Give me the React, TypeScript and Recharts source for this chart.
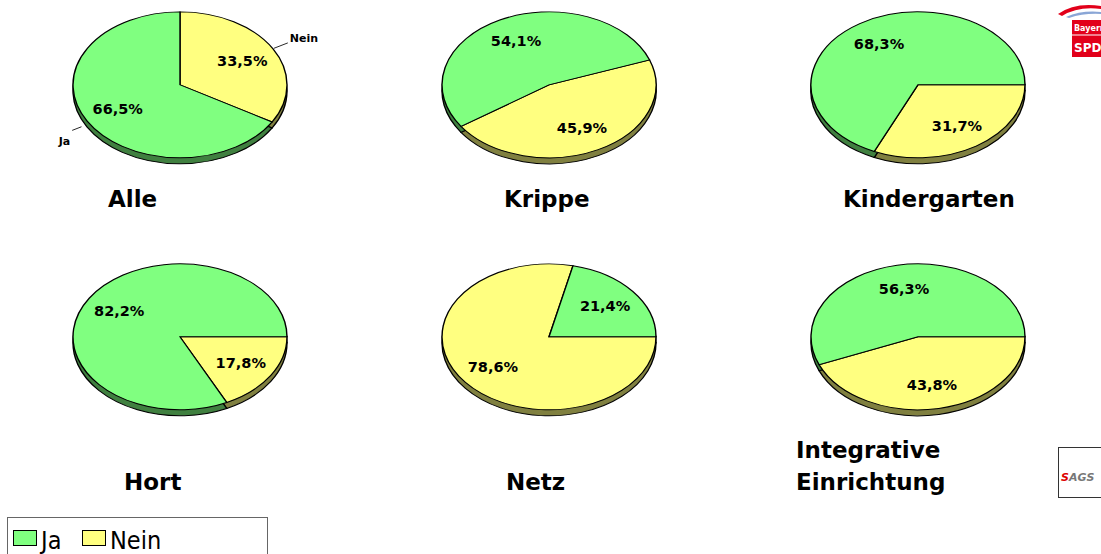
import { PieChart, Pie, Cell } from 'recharts'

// survey results, one pie per group
const groupTitles = [['Alle'], ['Krippe'], ['Kindergarten'], ['Hort'], ['Netz'], ['Integrative', 'Einrichtung']]
const jaValues = [66.5, 54.1, 68.3, 82.2, 21.4, 56.3]
const neinValues = [33.5, 45.9, 31.7, 17.8, 78.6, 43.8]
const seriesNames = ['Nein', 'Ja']

// layout
const centers = [[180, 85], [549, 85], [918, 85], [180, 337], [549, 337], [918, 337]]
const startAngles = [90, 20, 0, 0, 0, 0]
const titlePos = [[108, 207], [504, 207], [843, 207], [124, 490], [506, 490], [796, 458]]

const K = 0.682
const R = 107
const DEPTH = 6 / K
const RAD = Math.PI / 180
const W = 320
const H = 260
const CX = 160
const CY = 120

const TOP_COLORS = ['#ffff80', '#80ff80']
const SIDE_COLORS = ['#808040', '#408040']

const fmt = (v: number) => v.toFixed(1).replace('.', ',') + '%'
const unsquash = (y: number) => `translate(0 ${y}) scale(1 ${1 / K}) translate(0 ${-y})`

const makeLabel = (showNames: boolean) => (props: any) => {
  const { cx, cy, midAngle, outerRadius, value, name } = props
  const cos = Math.cos(-midAngle * RAD)
  const sin = Math.sin(-midAngle * RAD)
  const r = outerRadius * 0.67
  const x = cx + r * cos
  const y = cy + r * sin
  const right = cos >= 0
  const r1 = right ? 1.01 : 1.06
  const x1 = cx + outerRadius * r1 * cos
  const y1 = cy + outerRadius * r1 * sin + (right ? 0 : DEPTH * 0.6)
  const x2 = cx + outerRadius * 1.16 * cos
  const y2 = cy + outerRadius * 1.16 * sin + (right ? 0 : DEPTH * 0.6)
  return (
    <g>
      <text x={x} y={y} transform={unsquash(y)} textAnchor="middle" dominantBaseline="central"
        fontFamily="DejaVu Sans" fontWeight="bold" fontSize={14.5} fill="#000">
        {fmt(value)}
      </text>
      {showNames && (
        <g>
          <line x1={x1} y1={y1} x2={x2} y2={y2} stroke="#000" strokeWidth={1} />
          <text x={x2 + (right ? 2 : -2)} y={y2} dy={right ? -1 : 15} transform={unsquash(y2)}
            textAnchor={right ? 'start' : 'end'} fontFamily="DejaVu Sans" fontWeight="bold" fontSize={11} fill="#000">
            {name}
          </text>
        </g>
      )}
    </g>
  )
}

function PieBlock({ i }: { i: number }) {
  const data = [
    { name: seriesNames[0], value: neinValues[i] },
    { name: seriesNames[1], value: jaValues[i] },
  ]
  const [sx, sy] = centers[i]
  const start = startAngles[i]
  return (
    <div style={{ position: 'absolute', left: sx - CX, top: sy - CY * K, width: W, height: H, transform: `scaleY(${K})`, transformOrigin: '0 0' }}>
      <PieChart width={W} height={H} margin={{ top: 0, right: 0, bottom: 0, left: 0 }}>
        <Pie data={data} dataKey="value" nameKey="name" cx={CX} cy={CY + DEPTH} outerRadius={R}
          startAngle={start} endAngle={start - 360} stroke="#000" strokeWidth={1.4}
          isAnimationActive={false} label={false} labelLine={false}>
          {data.map((_, j) => <Cell key={j} fill={SIDE_COLORS[j]} />)}
        </Pie>
        <Pie data={data} dataKey="value" nameKey="name" cx={CX} cy={CY} outerRadius={R}
          startAngle={start} endAngle={start - 360} stroke="#000" strokeWidth={1.4}
          isAnimationActive={false} label={makeLabel(i === 0)} labelLine={false}>
          {data.map((_, j) => <Cell key={j} fill={TOP_COLORS[j]} />)}
        </Pie>
      </PieChart>
    </div>
  )
}

export default function App() {
  return (
    <div style={{ position: 'absolute', left: 0, top: 0, width: 1101, height: 554, overflow: 'hidden', background: '#fff' }}>
      <svg width={1101} height={554} style={{ position: 'absolute', left: 0, top: 0 }}>
        {groupTitles.map((lines, i) => lines.map((ln, j) => (
          <text key={`${i}-${j}`} x={titlePos[i][0]} y={titlePos[i][1] + j * 32}
            fontFamily="DejaVu Sans" fontWeight="bold" fontSize={23} fill="#000">{ln}</text>
        )))}
        {/* legend */}
        <rect x={7.5} y={517.5} width={260} height={60} fill="#fff" stroke="#666" />
        <rect x={13.5} y={530.5} width={23} height={15} fill={TOP_COLORS[1]} stroke="#000" />
        <text x={41} y={549} fontFamily="DejaVu Sans Condensed" fontSize={25} fill="#000">{seriesNames[1]}</text>
        <rect x={82.5} y={530.5} width={23} height={15} fill={TOP_COLORS[0]} stroke="#000" />
        <text x={110} y={549} fontFamily="DejaVu Sans Condensed" fontSize={25} fill="#000">{seriesNames[0]}</text>
        {/* logos */}
        <path d="M1058 14 Q1075 2 1101 6 L1101 9 Q1078 6 1062 16 Z" fill="#e2001a" />
        <path d="M1066 17 Q1082 10 1101 12 L1101 14 Q1084 13 1069 18 Z" fill="#8aa6d6" />
        <rect x={1072} y={20} width={30} height={37} fill="#e2001a" />
        <text x={1074} y={31} fontFamily="DejaVu Sans" fontWeight="bold" fontSize={8} fill="#fff">Bayern</text>
        <line x1={1072} y1={35} x2={1101} y2={35} stroke="#fff" strokeWidth={1} />
        <text x={1074} y={52} fontFamily="DejaVu Sans" fontWeight="bold" fontSize={12} fill="#fff">SPD</text>
        <rect x={1058.5} y={447.5} width={50} height={50} fill="#fff" stroke="#333" />
        <text x={1061} y={481} fontFamily="DejaVu Sans" fontStyle="italic" fontWeight="bold" fontSize={11} fill="#777">
          <tspan fill="#d00">S</tspan>AGS
        </text>
      </svg>
      {groupTitles.map((_, i) => <PieBlock key={i} i={i} />)}
    </div>
  )
}
